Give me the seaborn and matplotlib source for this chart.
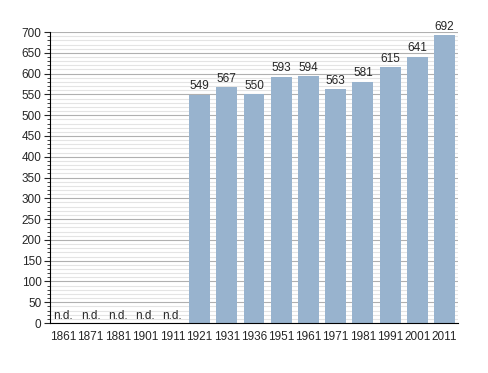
import numpy as np
import pandas as pd
import matplotlib
matplotlib.use('Agg')
import matplotlib.pyplot as plt
import seaborn as sns
from matplotlib.ticker import MultipleLocator

# Data
years = ['1861', '1871', '1881', '1901', '1911', '1921', '1931', '1936',
         '1951', '1961', '1971', '1981', '1991', '2001', '2011']
population = [np.nan, np.nan, np.nan, np.nan, np.nan, 549, 567, 550,
              593, 594, 563, 581, 615, 641, 692]

df = pd.DataFrame({'year': years, 'pop': population})

sns.set_style('white')
plt.rcParams['font.family'] = ['Liberation Sans', 'DejaVu Sans']

fig = plt.figure(figsize=(4.88, 3.73), dpi=100)
ax = fig.add_axes([0.102, 0.134, 0.837, 0.78])

ax.yaxis.set_major_locator(MultipleLocator(50))
ax.yaxis.set_minor_locator(MultipleLocator(10))
ax.grid(which='minor', axis='y', color='#e4e4e4', linewidth=0.8)
ax.grid(which='major', axis='y', color='#b0b0b0', linewidth=0.8)
ax.set_axisbelow(True)

sns.barplot(data=df, x='year', y='pop', color='#98b3ce', saturation=1,
            width=0.77, linewidth=0, ax=ax)

for i, v in enumerate(population):
    if np.isnan(v):
        ax.text(i, 3, 'n.d.', ha='center', va='bottom', fontsize=8.5)
    else:
        ax.text(i, v + 6, f'{int(v)}', ha='center', va='bottom', fontsize=8.5)

ax.set_ylim(0, 700)
ax.set_xlim(-0.5, len(years) - 0.5)
ax.set_xlabel('')
ax.set_ylabel('')
for s in ['top', 'right']:
    ax.spines[s].set_visible(False)
ax.spines['left'].set_color('black')
ax.spines['bottom'].set_color('black')
ax.tick_params(axis='y', which='major', left=True, length=4, width=0.8,
               labelsize=8.5, pad=2)
ax.tick_params(axis='y', which='minor', left=True, length=2, width=0.6)
ax.tick_params(axis='x', bottom=False, labelsize=8.5, pad=2)

fig.savefig('out.png', dpi=100)
